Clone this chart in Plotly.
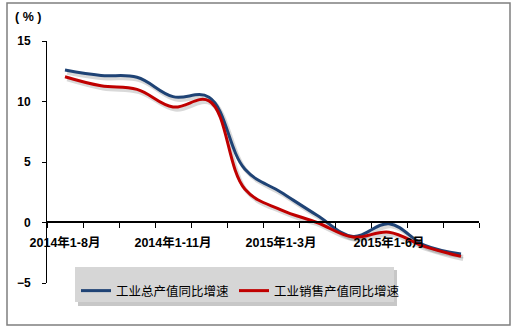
import plotly.graph_objects as go

categories = ["2014年1-8月", "2014年1-9月", "2014年1-10月", "2014年1-11月", "2014年1-12月",
              "2015年1-2月", "2015年1-3月", "2015年1-4月", "2015年1-5月", "2015年1-6月",
              "2015年1-7月", "2015年1-8月"]
total_output = [12.6, 12.15, 12.0, 10.4, 10.35, 4.4, 2.5, 0.6, -1.15, -0.1, -1.9, -2.6]
sales_output = [12.05, 11.3, 11.0, 9.55, 10.05, 2.75, 1.05, 0.0, -1.2, -0.8, -2.0, -2.8]
series_names = ["工业总产值同比增速", "工业销售产值同比增速"]
label_idx = [0, 3, 6, 9]
y_ticks = [15, 10, 5, 0, -5]

W, H = 517, 333
L, R, T, B = 47, 479, 41, 283   # plot area in pixels
pw, ph = R - L, B - T

def px(x):
    return (x - L) / pw

def py(y):
    return (B - y) / ph

FONT = "Arial, Liberation Sans, Noto Sans CJK SC, sans-serif"
xs = list(range(len(categories)))
colors = ["#1F4375", "#C00000"]

fig = go.Figure()
# soft shadows
for vals in (total_output, sales_output):
    fig.add_trace(go.Scatter(x=[v + 0.06 for v in xs], y=[v - 0.22 for v in vals], mode="lines",
                             line=dict(color="rgba(0,0,0,0.15)", width=4, shape="spline", smoothing=1.1),
                             showlegend=False, hoverinfo="skip"))
for name, vals, c in zip(series_names, (total_output, sales_output), colors):
    fig.add_trace(go.Scatter(x=xs, y=vals, mode="lines", name=name,
                             line=dict(color=c, width=3, shape="spline", smoothing=1.1)))

shapes = [
    # outer frame
    dict(type="rect", xref="paper", yref="paper", x0=px(7), x1=px(510), y0=py(325), y1=py(3),
         line=dict(color="#7f7f7f", width=1.5), fillcolor="rgba(0,0,0,0)", layer="below"),
    # legend shadow
    dict(type="rect", xref="paper", yref="paper", x0=px(78), x1=px(397), y0=py(306), y1=py(270),
         line=dict(width=0), fillcolor="rgba(0,0,0,0.22)", layer="above"),
    # legend box
    dict(type="rect", xref="paper", yref="paper", x0=px(75), x1=px(394), y0=py(302), y1=py(267),
         line=dict(width=0), fillcolor="#d6d6d6", layer="above"),
]

fig.update_layout(
    width=W, height=H,
    margin=dict(l=L, r=W - R, t=T, b=H - B, pad=0),
    paper_bgcolor="white", plot_bgcolor="white",
    font=dict(family=FONT, color="black"),
    shapes=shapes,
    showlegend=True,
    legend=dict(orientation="h", x=px(76), y=py(276), xanchor="left", yanchor="top",
                bgcolor="rgba(0,0,0,0)", font=dict(size=12.5, family="Noto Sans CJK SC, sans-serif", color="black"),
                itemwidth=30, tracegroupgap=0),
    xaxis=dict(range=[-0.5, len(categories) - 0.5], anchor="free", position=py(222),
               showgrid=False, zeroline=False, showline=True, linecolor="black", linewidth=1.5,
               tickmode="array", tickvals=label_idx, ticktext=[categories[i] for i in label_idx],
               ticks="outside", ticklen=9, tickcolor="rgba(0,0,0,0)",
               tickfont=dict(size=12.5, family=FONT, weight="bold"),
               minor=dict(tickmode="array", tickvals=[i - 0.5 for i in range(len(categories) + 1)],
                          ticks="outside", ticklen=5, tickcolor="black", tickwidth=1, showgrid=False)),
    yaxis=dict(range=[-5, 15], showgrid=False, zeroline=False, showline=True, linecolor="black",
               linewidth=1, tickmode="array", tickvals=y_ticks, ticks="outside", ticklen=4,
               ticklabelstandoff=9,
               tickcolor="black", tickfont=dict(size=12, family=FONT, weight="bold")),
    annotations=[dict(text="( % )", xref="paper", yref="paper", x=px(13), y=py(17), xanchor="left",
                      yanchor="middle", showarrow=False, font=dict(size=12.5, family=FONT, weight="bold"))],
)

fig.write_html("out.html")
